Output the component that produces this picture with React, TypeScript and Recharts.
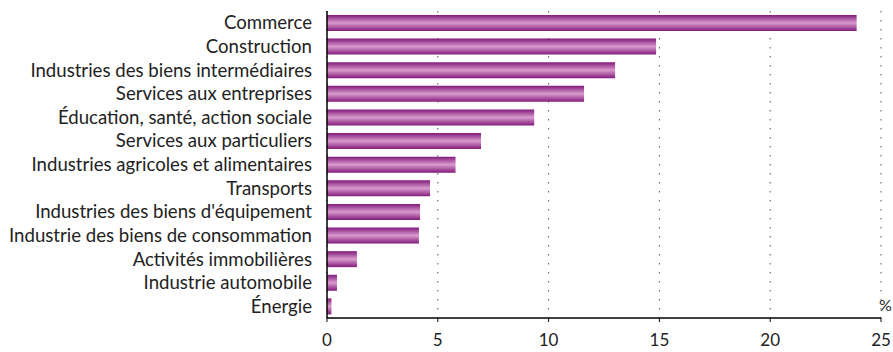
import React from "react";
import {
  BarChart,
  Bar,
  XAxis,
  YAxis,
  CartesianGrid,
} from "recharts";

const sectors = [
  "Commerce",
  "Construction",
  "Industries des biens intermédiaires",
  "Services aux entreprises",
  "Éducation, santé, action sociale",
  "Services aux particuliers",
  "Industries agricoles et alimentaires",
  "Transports",
  "Industries des biens d'équipement",
  "Industrie des biens de consommation",
  "Activités immobilières",
  "Industrie automobile",
  "Énergie",
];

const shares = [23.9, 14.85, 13.0, 11.6, 9.35, 6.95, 5.8, 4.65, 4.2, 4.15, 1.35, 0.45, 0.2];

const xTicks = [0, 5, 10, 15, 20, 25];

const data = sectors.map((name, i) => ({ name, value: shares[i] }));

const FONT = "Lato, 'Open Sans', sans-serif";

const App: React.FC = () => {
  return (
    <div style={{ position: "absolute", left: 0, top: 0, width: 893, height: 352 }}>
      <BarChart
        width={893}
        height={352}
        data={data}
        layout="vertical"
        margin={{ top: 11, right: 12, left: 0, bottom: 0 }}
        barSize={16}
      >
        <defs>
          <linearGradient id="barFill" x1="0" y1="0" x2="0" y2="1">
            <stop offset="0%" stopColor="#821a7b" />
            <stop offset="50%" stopColor="#d99bcd" />
            <stop offset="100%" stopColor="#821a7b" />
          </linearGradient>
        </defs>
        <CartesianGrid
          horizontal={false}
          stroke="#555"
          strokeDasharray="1.5 7.5"
        />
        <XAxis
          type="number"
          domain={[0, 25]}
          ticks={xTicks}
          height={34}
          axisLine={{ stroke: "#000", strokeWidth: 1.5 }}
          tickLine={{ stroke: "#000" }}
          tickSize={4}
          tickMargin={12}
          tick={{ fill: "#222", fontSize: 17, fontFamily: FONT }}
        />
        <YAxis
          type="category"
          dataKey="name"
          width={327}
          axisLine={{ stroke: "#000", strokeWidth: 1.5 }}
          tickLine={false}
          tickSize={0}
          tickMargin={15}
          interval={0}
          tick={{ fill: "#222", fontSize: 18.6, fontFamily: FONT }}
        />
        <Bar dataKey="value" fill="url(#barFill)" isAnimationActive={false} />
        <text x={879} y={311} fontSize={16} fontFamily={FONT} fill="#222">
          %
        </text>
      </BarChart>
    </div>
  );
};

export default App;
